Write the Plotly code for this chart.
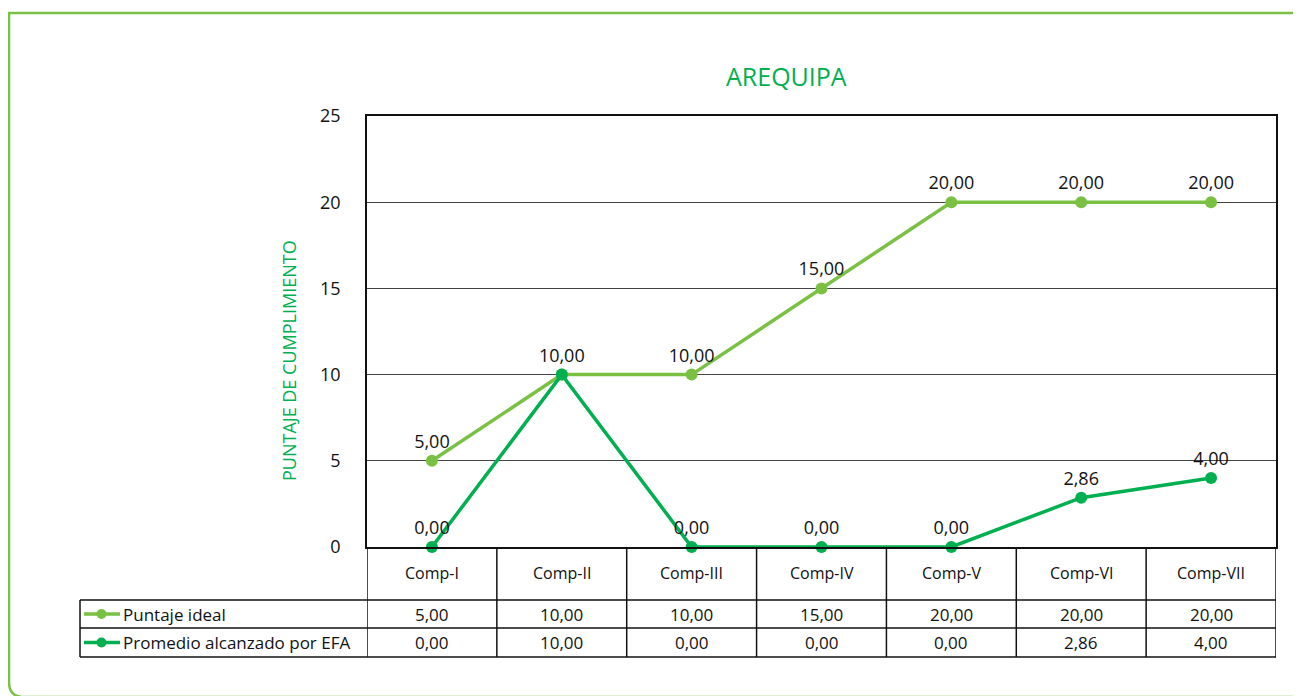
import plotly.graph_objects as go

categories = ["Comp-I", "Comp-II", "Comp-III", "Comp-IV", "Comp-V", "Comp-VI", "Comp-VII"]
puntaje_ideal = [5.00, 10.00, 10.00, 15.00, 20.00, 20.00, 20.00]
promedio_efa = [0.00, 10.00, 0.00, 0.00, 0.00, 2.86, 4.00]
series_names = ["Puntaje ideal", "Promedio alcanzado por EFA"]
y_ticks = [0, 5, 10, 15, 20, 25]
title_text = "AREQUIPA"
y_title = "PUNTAJE DE CUMPLIMIENTO"

LIGHT = "#7AC143"
DARK = "#00B050"
INK = "#111111"
FONT = "'Open Sans', sans-serif"

OFF = 8  # default page body margin
W, H = 1301 - OFF, 696 - OFF
# plot area in screen pixels
L, R, T, B = 367, 1276, 116, 547


def px(x):
    return (x - L) / (R - L)


def py(y):
    return (B - y) / (B - T)


def fmt(v):
    return f"{v:.2f}".replace(".", ",")


fig = go.Figure()
idx = list(range(len(categories)))
labels_ideal = [fmt(v) for v in puntaje_ideal]
# labels of the second series are not repeated where they coincide with the first
labels_efa = ["" if a == b else fmt(b) for a, b in zip(puntaje_ideal, promedio_efa)]
for name, vals, col, labels in [(series_names[0], puntaje_ideal, LIGHT, labels_ideal),
                                (series_names[1], promedio_efa, DARK, labels_efa)]:
    fig.add_trace(go.Scatter(
        x=idx, y=vals, name=name, mode="lines+markers+text",
        line=dict(color=col, width=3.5), marker=dict(color=col, size=12),
        text=labels,
        textposition="top center", textfont=dict(size=18, color=INK, family=FONT),
        cliponaxis=False, showlegend=False,
    ))

shapes = []
line_style = dict(color=INK, width=1.5)
for yy in [600, 628, 657]:
    shapes.append(dict(type="line", xref="paper", yref="paper", x0=px(80), x1=px(R), y0=py(yy), y1=py(yy), line=line_style))
shapes.append(dict(type="line", xref="paper", yref="paper", x0=px(80), x1=px(80), y0=py(600), y1=py(657), line=line_style))
for k in range(len(categories) + 1):
    shapes.append(dict(type="line", xref="x", yref="paper", x0=k - 0.5, x1=k - 0.5, y0=py(547), y1=py(657), line=line_style))
ROW1, ROW2 = 614, 642.5
for row_y, col in [(ROW1, LIGHT), (ROW2, DARK)]:
    shapes.append(dict(type="line", xref="paper", yref="paper", x0=px(84), x1=px(120), y0=py(row_y), y1=py(row_y), line=dict(color=col, width=3.5)))
    shapes.append(dict(type="circle", xref="paper", yref="paper", x0=px(96.5), x1=px(106.5), y0=py(row_y + 5), y1=py(row_y - 5), fillcolor=col, line=dict(color=col, width=0)))
fx0, fx1, fy0, fy1 = px(9), px(1320), py(13), py(697)
frame_path = (f"M {fx1},{fy0} L {fx0},{fy0} L {fx0},{py(682)} "
              f"Q {fx0},{py(696)} {px(22)},{fy1} L {fx1},{fy1}")
shapes.append(dict(type="path", xref="paper", yref="paper", path=frame_path, line=dict(color=LIGHT, width=2.5), layer="below"))

annotations = []
for i, c in enumerate(categories):
    for text, yy, size in [(c, 573, 16), (fmt(puntaje_ideal[i]), ROW1, 17), (fmt(promedio_efa[i]), ROW2, 17)]:
        annotations.append(dict(x=i, y=py(yy), xref="x", yref="paper", text=text, showarrow=False,
                                xanchor="center", yanchor="middle",
                                font=dict(size=size, color=INK, family=FONT)))
for row_y, name in [(ROW1, series_names[0]), (ROW2, series_names[1])]:
    annotations.append(dict(x=px(121), y=py(row_y), xref="paper", yref="paper", text=name, showarrow=False,
                            xanchor="left", yanchor="middle", font=dict(size=17, color=INK, family=FONT)))
annotations.append(dict(x=px(786), y=py(76), xref="paper", yref="paper", text=title_text, showarrow=False,
                        xanchor="center", yanchor="middle", font=dict(size=25, color=DARK, family=FONT)))
annotations.append(dict(x=px(289), y=py(361), xref="paper", yref="paper", text=y_title, showarrow=False,
                        xanchor="center", yanchor="middle",
                        textangle=-90, font=dict(size=18, color=DARK, family=FONT)))

fig.update_layout(
    width=W, height=H, autosize=False,
    margin=dict(l=L - OFF, r=W - (R - OFF), t=T - OFF, b=H - (B - OFF), pad=0),
    paper_bgcolor="white", plot_bgcolor="white",
    shapes=shapes, annotations=annotations,
    font=dict(family=FONT, color=INK),
    showlegend=False,
)
fig.update_xaxes(range=[-0.5, len(categories) - 0.5], showticklabels=False, showgrid=False, zeroline=False,
                 showline=True, linecolor=INK, linewidth=1.5, mirror=True, ticks="", fixedrange=True)
fig.update_yaxes(range=[0, 25], tickvals=y_ticks, showgrid=True, gridcolor="#444444", gridwidth=1, zeroline=False,
                 showline=True, linecolor=INK, linewidth=1.5, mirror=True, ticks="",
                 tickfont=dict(size=18, color=INK, family=FONT), ticklabelstandoff=21, fixedrange=True)

fig.write_html("out.html")
